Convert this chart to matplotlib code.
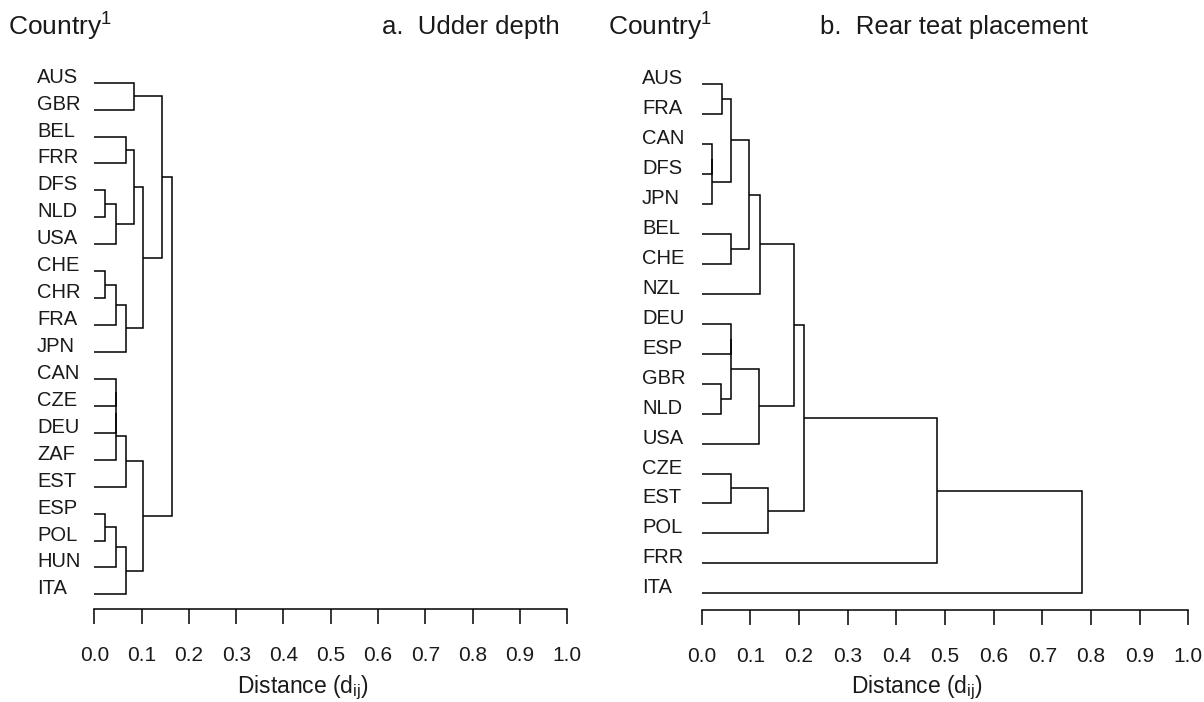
import matplotlib
matplotlib.use("Agg")
import matplotlib.pyplot as plt

plt.rcParams["font.family"] = ["Liberation Sans", "DejaVu Sans"]
plt.rcParams["mathtext.fontset"] = "custom"
plt.rcParams["mathtext.rm"] = "Liberation Sans"
plt.rcParams["mathtext.it"] = "Liberation Sans:italic"
plt.rcParams["mathtext.default"] = "regular"

# ---------------- data ----------------
leaves_a = ["AUS", "GBR", "BEL", "FRR", "DFS", "NLD", "USA", "CHE", "CHR", "FRA",
            "JPN", "CAN", "CZE", "DEU", "ZAF", "EST", "ESP", "POL", "HUN", "ITA"]
# merges: (cluster 1, cluster 2, distance); clusters named m0, m1, ... in order
merges_a = [
    ("DFS", "NLD", 0.023),   # m0
    ("m0", "USA", 0.045),    # m1
    ("BEL", "FRR", 0.066),   # m2
    ("m2", "m1", 0.083),     # m3
    ("CHE", "CHR", 0.023),   # m4
    ("m4", "FRA", 0.045),    # m5
    ("m5", "JPN", 0.066),    # m6
    ("m3", "m6", 0.104),     # m7
    ("AUS", "GBR", 0.083),   # m8
    ("m8", "m7", 0.143),     # m9
    ("CAN", "CZE", 0.045),   # m10
    ("m10", "DEU", 0.045),   # m11
    ("m11", "ZAF", 0.045),   # m12
    ("m12", "EST", 0.066),   # m13
    ("ESP", "POL", 0.023),   # m14
    ("m14", "HUN", 0.045),   # m15
    ("m15", "ITA", 0.066),   # m16
    ("m13", "m16", 0.104),   # m17
    ("m9", "m17", 0.164),    # m18
]

leaves_b = ["AUS", "FRA", "CAN", "DFS", "JPN", "BEL", "CHE", "NZL", "DEU", "ESP",
            "GBR", "NLD", "USA", "CZE", "EST", "POL", "FRR", "ITA"]
merges_b = [
    ("CAN", "DFS", 0.021),   # m0
    ("m0", "JPN", 0.021),    # m1
    ("AUS", "FRA", 0.041),   # m2
    ("m2", "m1", 0.060),     # m3
    ("BEL", "CHE", 0.060),   # m4
    ("m3", "m4", 0.098),     # m5
    ("m5", "NZL", 0.120),    # m6
    ("DEU", "ESP", 0.060),   # m7
    ("GBR", "NLD", 0.040),   # m8
    ("m7", "m8", 0.060),     # m9
    ("m9", "USA", 0.118),    # m10
    ("m6", "m10", 0.190),    # m11
    ("CZE", "EST", 0.060),   # m12
    ("m12", "POL", 0.136),   # m13
    ("m11", "m13", 0.210),   # m14
    ("m14", "FRR", 0.484),   # m15
    ("m15", "ITA", 0.782),   # m16
]

xticks = [0.0, 0.1, 0.2, 0.3, 0.4, 0.5, 0.6, 0.7, 0.8, 0.9, 1.0]
xtick_labels = ["0.0", "0.1", "0.2", "0.3", "0.4", "0.5", "0.6", "0.7", "0.8", "0.9", "1.0"]
titles = ["a.  Udder depth", "b.  Rear teat placement"]
ylabel_text = "Country$^{1}$"
xlabel_text = "Distance (d$_{ij}$)"

# ---------------- layout ----------------
W, H = 1204, 702
fig = plt.figure(figsize=(W / 100, H / 100), dpi=100)

LW = 1.1


def make_axes(left, right, leaf0, spacing, baseline, n):
    top = leaf0 - 0.5 * spacing
    ax = fig.add_axes([left / W, 1 - baseline / H, (right - left) / W, (baseline - top) / H])
    ax.set_xlim(0, 1)
    ax.set_ylim((baseline - leaf0) / spacing, -0.5)
    return ax


def draw_dendro(ax, leaves, merges):
    pos = {name: (0.0, i) for i, name in enumerate(leaves)}
    for k, (a, b, h) in enumerate(merges):
        xa, ya = pos[a]
        xb, yb = pos[b]
        ax.plot([xa, h, h, xb], [ya, ya, yb, yb], color="black", lw=LW,
                clip_on=False, solid_joinstyle="miter", solid_capstyle="butt")
        pos[f"m{k}"] = (h, (ya + yb) / 2)


def style(ax, leaves, label_x_axes):
    for s in ["top", "left", "right"]:
        ax.spines[s].set_visible(False)
    ax.spines["bottom"].set_linewidth(LW)
    ax.set_yticks([])
    ax.set_xticks(xticks)
    ax.set_xticklabels(xtick_labels, fontsize=15, color="#1a1a1a")
    ax.tick_params(axis="x", direction="out", length=10.8, width=LW, pad=15.5)
    trans = ax.get_yaxis_transform()
    for i, name in enumerate(leaves):
        ax.text(label_x_axes, i, name, transform=trans, ha="left", va="baseline",
                fontsize=14.5, color="#1a1a1a", clip_on=False)


# panel a
ax_a = make_axes(94.3, 567.3, 82.7, 26.93, 609, len(leaves_a))
draw_dendro(ax_a, leaves_a, merges_a)
style(ax_a, leaves_a, (37 - 94.3) / 473)

# panel b
ax_b = make_axes(701.7, 1188.3, 84.3, 29.94, 610, len(leaves_b))
draw_dendro(ax_b, leaves_b, merges_b)
style(ax_b, leaves_b, (642 - 701.7) / 486.6)

# header texts
fig.text(8 / W, 1 - 36 / H, ylabel_text, fontsize=19, ha="left", va="baseline", color="#1a1a1a")
fig.text(382 / W, 1 - 34 / H, titles[0], fontsize=18.5, ha="left", va="baseline", color="#1a1a1a")
fig.text(608 / W, 1 - 36 / H, ylabel_text, fontsize=19, ha="left", va="baseline", color="#1a1a1a")
fig.text(820 / W, 1 - 34 / H, titles[1], fontsize=18.5, ha="left", va="baseline", color="#1a1a1a")

# x labels
fig.text((94.3 + 0.442 * 473) / W, 1 - 693 / H, xlabel_text, fontsize=16.5,
         ha="center", va="baseline", color="#1a1a1a")
fig.text((701.7 + 0.442 * 486.6) / W, 1 - 693 / H, xlabel_text, fontsize=16.5,
         ha="center", va="baseline", color="#1a1a1a")

fig.savefig("out.png", dpi=100)
